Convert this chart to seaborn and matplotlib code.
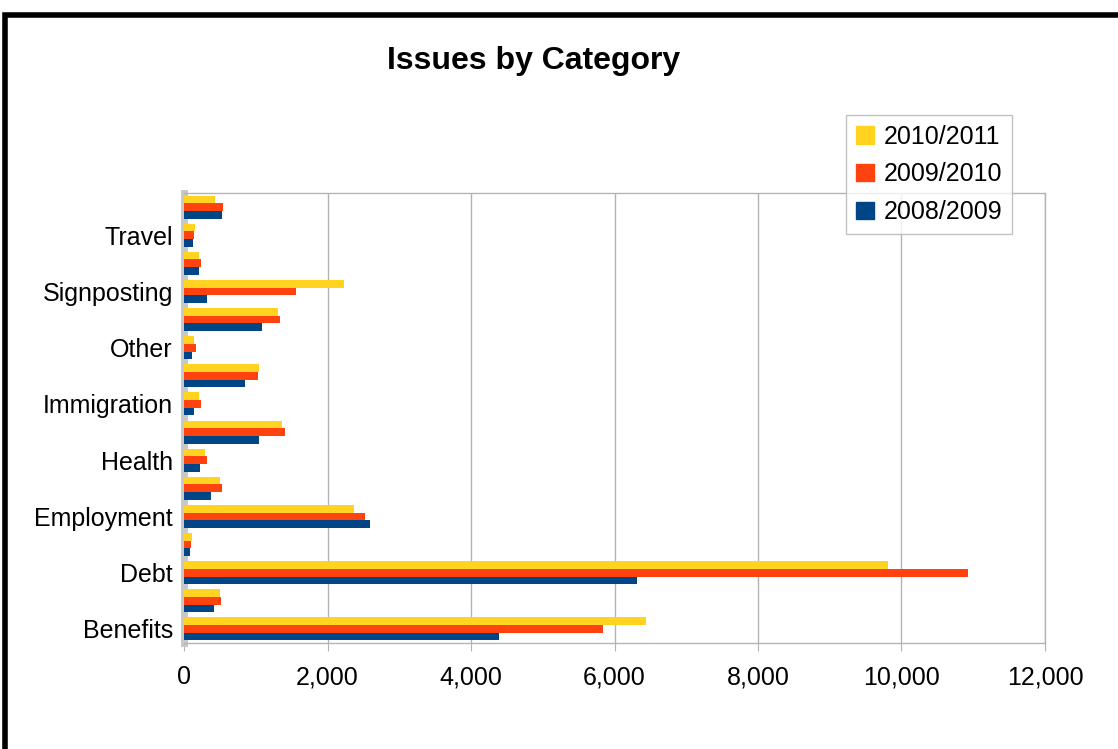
import pandas as pd
import seaborn as sns
import matplotlib.pyplot as plt
from matplotlib.patches import Rectangle

categories = ["Benefits", "Consumer", "Debt", "Education", "Employment", "Family",
              "Health", "Housing", "Immigration", "Legal", "Other", "Relationships",
              "Signposting", "Tax", "Travel", "Utilities"]
shown = {"Benefits", "Debt", "Employment", "Health", "Immigration", "Other",
         "Signposting", "Travel"}

years = ["2010/2011", "2009/2010", "2008/2009"]
v2010_11 = [6440, 498, 9808, 105, 2370, 498, 288, 1364, 208, 1041, 133, 1303, 2229, 208, 147, 438]
v2009_10 = [5845, 522, 10931, 96, 2524, 531, 320, 1401, 236, 1027, 161, 1340, 1560, 232, 133, 545]
v2008_09 = [4395, 418, 6309, 87, 2594, 372, 227, 1050, 138, 849, 105, 1088, 320, 208, 124, 531]
colors = ["#FFD320", "#FF420E", "#004586"]

df = pd.DataFrame({
    "Category": categories * 3,
    "Year": [years[0]] * 16 + [years[1]] * 16 + [years[2]] * 16,
    "Issues": v2010_11 + v2009_10 + v2008_09,
})

sns.set_style("white")
plt.rcParams['font.family'] = ['Liberation Sans', 'DejaVu Sans']
plt.rcParams['text.color'] = 'black'
plt.rcParams['xtick.color'] = 'black'
plt.rcParams['ytick.color'] = 'black'

fig = plt.figure(figsize=(11.18, 7.49), dpi=100)
ax = fig.add_axes([0.1646, 0.1415, 0.7701, 0.6008])

order = categories[::-1]
sns.barplot(data=df, y="Category", x="Issues", hue="Year", order=order,
            hue_order=years, palette=colors, orient="h", width=0.82,
            saturation=1, linewidth=0, edgecolor="none", ax=ax, zorder=3)

ax.set_xlim(0, 12000)
ax.set_ylim(len(order) - 0.5, -0.5)
ax.set_xticks(range(0, 12001, 2000))
ax.set_xticklabels([f"{v:,}" for v in range(0, 12001, 2000)])
ax.grid(axis="x", color="#b3b3b3", linewidth=1, zorder=0)
ax.set_axisbelow(True)

# labels on every other category, ticks between groups
ax.set_yticks(range(len(order)))
ax.set_yticklabels([c if c in shown else "" for c in order])
ax.set_yticks([i + 0.5 for i in range(-1, len(order))], minor=True)
ax.tick_params(axis="y", which="major", length=0, pad=8, labelsize=18)
ax.tick_params(axis="y", which="minor", length=6, color="#b3b3b3", width=1)
ax.tick_params(axis="x", length=6, color="#b3b3b3", pad=10, labelsize=18,
               labelcolor="black", bottom=True)
ax.tick_params(axis="y", labelcolor="black")

for side in ["top", "right", "bottom"]:
    ax.spines[side].set_color("#b3b3b3")
    ax.spines[side].set_linewidth(1)
ax.spines["left"].set_color("#c8c8c8")
ax.spines["left"].set_linewidth(5)

ax.set_xlabel("")
ax.set_ylabel("")

ax.legend_.remove()
handles = [Rectangle((0, 0), 1, 1, color=c) for c in colors]
leg = fig.legend(handles, years, loc="upper left", bbox_to_anchor=(0.757, 0.847),
                 fontsize=18, frameon=True, fancybox=False, edgecolor="#b3b3b3",
                 handlelength=0.7, handleheight=0.7, handletextpad=0.4,
                 labelspacing=0.55, borderpad=0.4, borderaxespad=0)
leg.get_frame().set_linewidth(1)

fig.text(0.477, 0.918, "Issues by Category", ha="center", va="center",
         fontsize=23, fontweight="bold", color="black")

# thick black frame, right and bottom edges off canvas
fig.patches.append(Rectangle((0.0049, -0.1), 1.2, 1.0803, transform=fig.transFigure,
                             fill=False, edgecolor="black", linewidth=4, zorder=10))

fig.savefig("out.png", dpi=100)
